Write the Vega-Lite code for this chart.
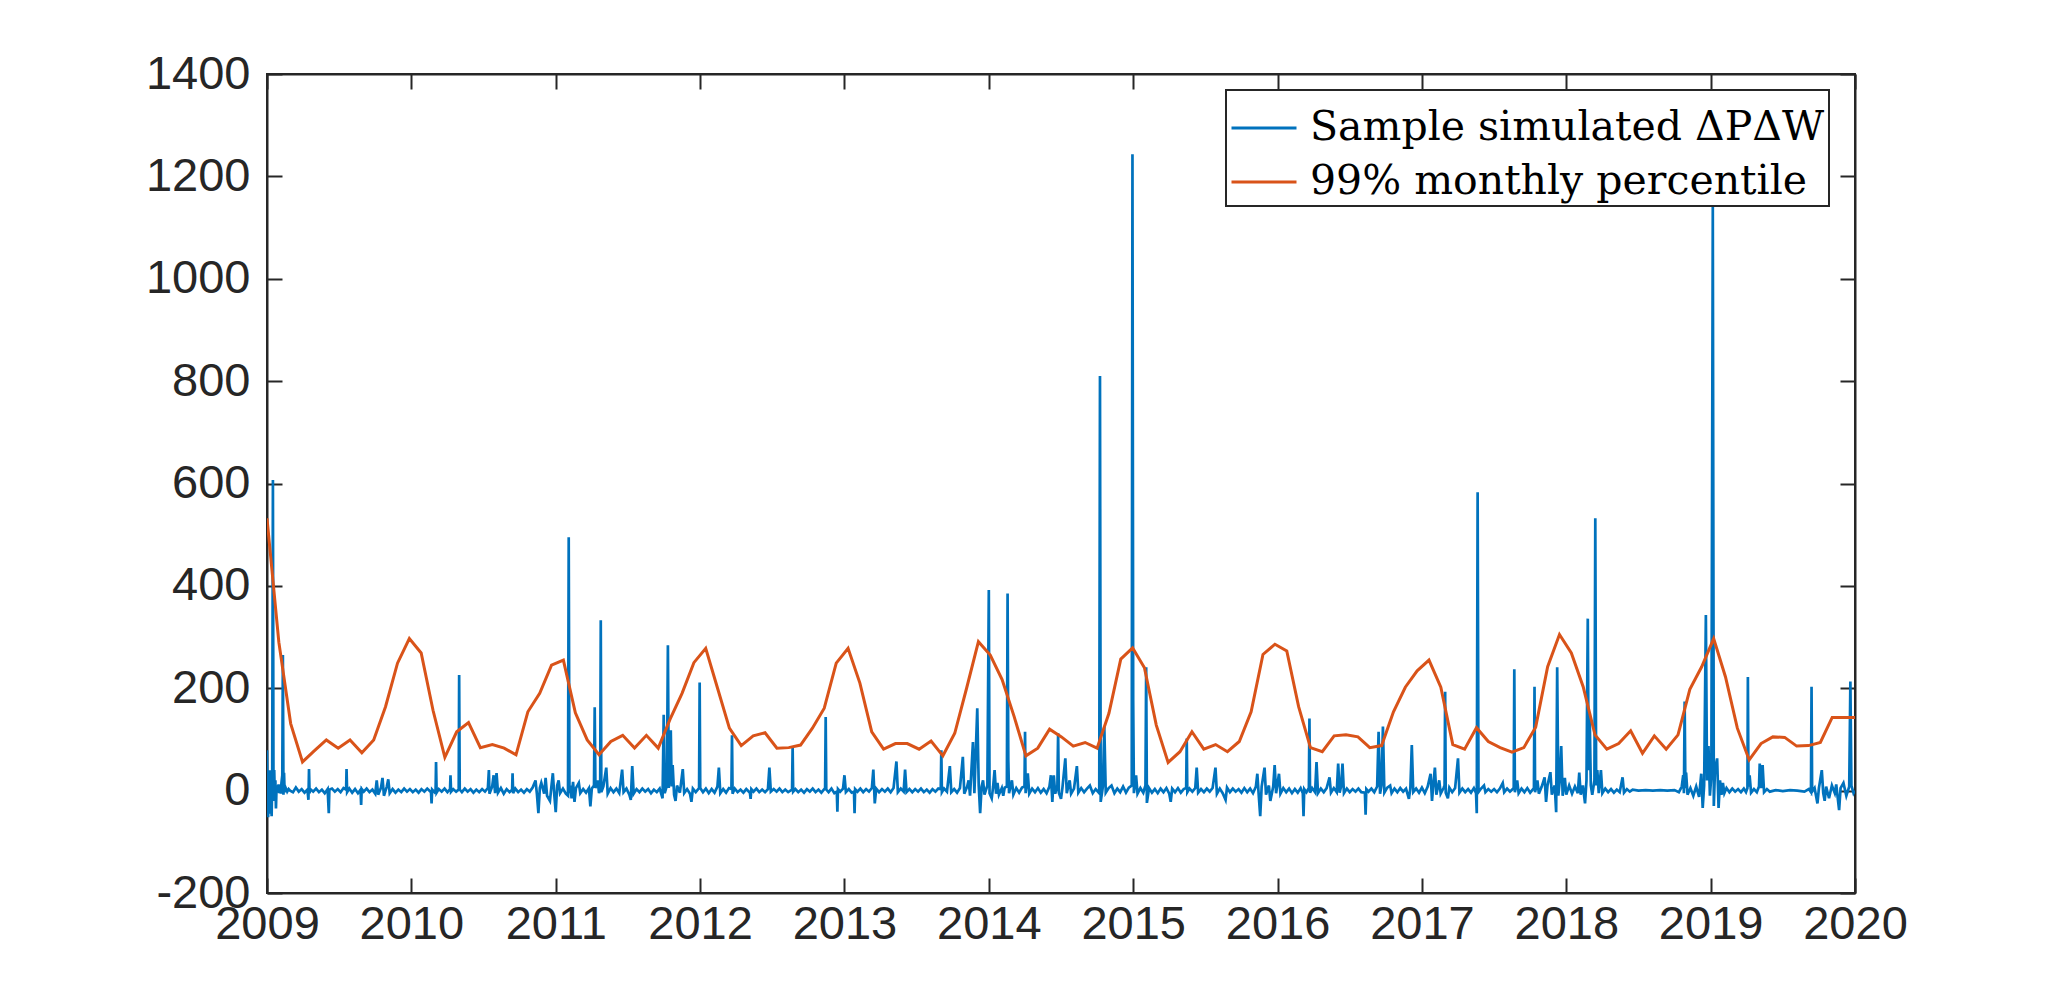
{
"$schema":"https://vega.github.io/schema/vega-lite/v6.json",
"autosize":"none",
"width":1588,"height":819,
"padding":{"left":267,"top":74,"right":195,"bottom":109},
"background":"white",
"config":{"view":{"stroke":"#262626","strokeWidth":2},"legend":{"strokeWidth":2},"axis":{"grid":false,"title":null,"domainColor":"#262626","domainWidth":2,"tickColor":"#262626","tickWidth":2,"tickSize":-15,"labelFont":"Liberation Sans","labelFontSize":47,"labelColor":"#262626"}},
"datasets":{
"sim":[
{"t":2009.000,"v":79},{"t":2009.004,"v":-10},{"t":2009.008,"v":-52},{"t":2009.012,"v":30},{"t":2009.016,"v":-45},{"t":2009.020,"v":40},{"t":2009.024,"v":-30},{"t":2009.028,"v":5},{"t":2009.032,"v":-50},{"t":2009.036,"v":20},{"t":2009.041,"v":607},{"t":2009.045,"v":-20},{"t":2009.050,"v":40},{"t":2009.054,"v":-10},{"t":2009.058,"v":20},{"t":2009.062,"v":-35},{"t":2009.066,"v":5},{"t":2009.070,"v":10},{"t":2009.075,"v":0},{"t":2009.080,"v":12},{"t":2009.085,"v":-5},{"t":2009.090,"v":8},{"t":2009.096,"v":-6},{"t":2009.100,"v":15},{"t":2009.106,"v":30},{"t":2009.110,"v":265},{"t":2009.114,"v":-8},{"t":2009.118,"v":35},{"t":2009.122,"v":-3},{"t":2009.130,"v":5},{"t":2009.140,"v":-2},{"t":2009.150,"v":3},
{"t":2009.16,"v":0},{"t":2009.18,"v":-3},{"t":2009.20,"v":6},{"t":2009.22,"v":-2},{"t":2009.24,"v":3},{"t":2009.26,"v":-4},{"t":2009.28,"v":2},{"t":2009.287,"v":-18},{"t":2009.291,"v":42},{"t":2009.295,"v":-5},{"t":2009.30,"v":3},{"t":2009.32,"v":-2},{"t":2009.34,"v":4},{"t":2009.36,"v":-3},{"t":2009.38,"v":2},{"t":2009.40,"v":-5},{"t":2009.42,"v":3},{"t":2009.428,"v":-44},{"t":2009.432,"v":2},{"t":2009.45,"v":4},{"t":2009.47,"v":-2},{"t":2009.49,"v":3},{"t":2009.51,"v":-3},{"t":2009.53,"v":5},{"t":2009.548,"v":2},{"t":2009.551,"v":42},{"t":2009.555,"v":-3},{"t":2009.57,"v":4},{"t":2009.59,"v":-4},{"t":2009.61,"v":3},{"t":2009.63,"v":-5},{"t":2009.648,"v":2},{"t":2009.652,"v":-28},{"t":2009.656,"v":3},{"t":2009.67,"v":-2},{"t":2009.69,"v":4},{"t":2009.71,"v":-3},{"t":2009.73,"v":2},{"t":2009.75,"v":-6},{"t":2009.76,"v":20},{"t":2009.77,"v":-8},{"t":2009.79,"v":6},{"t":2009.80,"v":25},{"t":2009.81,"v":-10},{"t":2009.83,"v":8},{"t":2009.84,"v":22},{"t":2009.85,"v":-5},{"t":2009.87,"v":3},{"t":2009.89,"v":-4},{"t":2009.91,"v":2},{"t":2009.93,"v":-3},{"t":2009.95,"v":4},{"t":2009.97,"v":-2},{"t":2009.99,"v":3},
{"t":2010.01,"v":-3},{"t":2010.03,"v":2},{"t":2010.05,"v":-4},{"t":2010.07,"v":3},{"t":2010.09,"v":-2},{"t":2010.11,"v":4},{"t":2010.136,"v":-3},{"t":2010.14,"v":-25},{"t":2010.144,"v":2},{"t":2010.16,"v":-3},{"t":2010.168,"v":2},{"t":2010.171,"v":56},{"t":2010.175,"v":-4},{"t":2010.19,"v":3},{"t":2010.21,"v":-2},{"t":2010.23,"v":4},{"t":2010.25,"v":-3},{"t":2010.268,"v":3},{"t":2010.271,"v":30},{"t":2010.275,"v":-2},{"t":2010.29,"v":3},{"t":2010.31,"v":-2},{"t":2010.328,"v":2},{"t":2010.331,"v":226},{"t":2010.335,"v":2},{"t":2010.35,"v":-3},{"t":2010.37,"v":4},{"t":2010.39,"v":-2},{"t":2010.41,"v":3},{"t":2010.43,"v":-4},{"t":2010.45,"v":2},{"t":2010.47,"v":-3},{"t":2010.49,"v":3},{"t":2010.51,"v":-2},{"t":2010.53,"v":5},{"t":2010.537,"v":40},{"t":2010.541,"v":-6},{"t":2010.56,"v":8},{"t":2010.57,"v":30},{"t":2010.58,"v":-5},{"t":2010.59,"v":34},{"t":2010.60,"v":-4},{"t":2010.62,"v":5},{"t":2010.64,"v":-6},{"t":2010.66,"v":3},{"t":2010.68,"v":-3},{"t":2010.698,"v":2},{"t":2010.701,"v":34},{"t":2010.705,"v":-5},{"t":2010.72,"v":4},{"t":2010.74,"v":-3},{"t":2010.76,"v":2},{"t":2010.78,"v":-4},{"t":2010.80,"v":3},{"t":2010.82,"v":-2},{"t":2010.84,"v":6},{"t":2010.86,"v":20},{"t":2010.87,"v":-8},{"t":2010.88,"v":-44},{"t":2010.89,"v":5},{"t":2010.90,"v":15},{"t":2010.92,"v":-6},{"t":2010.93,"v":25},{"t":2010.94,"v":-10},{"t":2010.96,"v":-20},{"t":2010.97,"v":8},{"t":2010.98,"v":34},{"t":2010.99,"v":-8},
{"t":2011.00,"v":-42},{"t":2011.01,"v":10},{"t":2011.02,"v":20},{"t":2011.03,"v":-5},{"t":2011.05,"v":4},{"t":2011.07,"v":-6},{"t":2011.085,"v":-10},{"t":2011.09,"v":495},{"t":2011.095,"v":-5},{"t":2011.10,"v":10},{"t":2011.11,"v":-15},{"t":2011.12,"v":17},{"t":2011.13,"v":-22},{"t":2011.14,"v":5},{"t":2011.16,"v":15},{"t":2011.17,"v":-5},{"t":2011.19,"v":3},{"t":2011.21,"v":-4},{"t":2011.23,"v":5},{"t":2011.24,"v":-31},{"t":2011.25,"v":4},{"t":2011.265,"v":10},{"t":2011.27,"v":163},{"t":2011.275,"v":5},{"t":2011.29,"v":20},{"t":2011.30,"v":-5},{"t":2011.308,"v":10},{"t":2011.312,"v":333},{"t":2011.316,"v":-3},{"t":2011.33,"v":8},{"t":2011.35,"v":45},{"t":2011.36,"v":-6},{"t":2011.38,"v":5},{"t":2011.40,"v":-3},{"t":2011.42,"v":4},{"t":2011.44,"v":-5},{"t":2011.46,"v":41},{"t":2011.47,"v":-3},{"t":2011.49,"v":4},{"t":2011.51,"v":-8},{"t":2011.52,"v":-18},{"t":2011.53,"v":48},{"t":2011.54,"v":-6},{"t":2011.56,"v":3},{"t":2011.58,"v":-3},{"t":2011.60,"v":4},{"t":2011.62,"v":-2},{"t":2011.64,"v":3},{"t":2011.66,"v":-5},{"t":2011.68,"v":2},{"t":2011.70,"v":-3},{"t":2011.72,"v":4},{"t":2011.74,"v":-15},{"t":2011.748,"v":148},{"t":2011.755,"v":-5},{"t":2011.77,"v":10},{"t":2011.777,"v":284},{"t":2011.783,"v":5},{"t":2011.797,"v":118},{"t":2011.803,"v":8},{"t":2011.81,"v":50},{"t":2011.82,"v":-8},{"t":2011.83,"v":-20},{"t":2011.84,"v":10},{"t":2011.86,"v":-4},{"t":2011.88,"v":42},{"t":2011.89,"v":-5},{"t":2011.91,"v":3},{"t":2011.93,"v":-6},{"t":2011.94,"v":-22},{"t":2011.95,"v":4},{"t":2011.97,"v":-3},{"t":2011.993,"v":5},{"t":2011.997,"v":211},
{"t":2012.001,"v":5},{"t":2012.02,"v":-3},{"t":2012.04,"v":4},{"t":2012.06,"v":-5},{"t":2012.08,"v":3},{"t":2012.10,"v":-4},{"t":2012.12,"v":8},{"t":2012.13,"v":45},{"t":2012.14,"v":-5},{"t":2012.16,"v":3},{"t":2012.18,"v":-4},{"t":2012.20,"v":5},{"t":2012.217,"v":3},{"t":2012.221,"v":108},{"t":2012.225,"v":-6},{"t":2012.24,"v":4},{"t":2012.26,"v":-3},{"t":2012.28,"v":2},{"t":2012.30,"v":-4},{"t":2012.32,"v":3},{"t":2012.345,"v":-4},{"t":2012.35,"v":-16},{"t":2012.355,"v":3},{"t":2012.37,"v":-2},{"t":2012.39,"v":4},{"t":2012.41,"v":-3},{"t":2012.43,"v":2},{"t":2012.45,"v":-3},{"t":2012.47,"v":3},{"t":2012.48,"v":45},{"t":2012.49,"v":-2},{"t":2012.51,"v":3},{"t":2012.53,"v":-2},{"t":2012.55,"v":4},{"t":2012.57,"v":-3},{"t":2012.59,"v":2},{"t":2012.61,"v":-3},{"t":2012.637,"v":2},{"t":2012.641,"v":86},{"t":2012.645,"v":-2},{"t":2012.66,"v":3},{"t":2012.68,"v":-3},{"t":2012.70,"v":2},{"t":2012.72,"v":-4},{"t":2012.74,"v":3},{"t":2012.76,"v":-2},{"t":2012.78,"v":4},{"t":2012.80,"v":-3},{"t":2012.82,"v":2},{"t":2012.84,"v":-4},{"t":2012.866,"v":5},{"t":2012.870,"v":144},{"t":2012.874,"v":2},{"t":2012.89,"v":-3},{"t":2012.91,"v":4},{"t":2012.93,"v":-5},{"t":2012.947,"v":-2},{"t":2012.951,"v":-41},{"t":2012.955,"v":3},{"t":2012.97,"v":-2},{"t":2012.99,"v":4},
{"t":2013.00,"v":30},{"t":2013.01,"v":-3},{"t":2013.03,"v":3},{"t":2013.05,"v":-4},{"t":2013.066,"v":-2},{"t":2013.07,"v":-44},{"t":2013.074,"v":3},{"t":2013.09,"v":-2},{"t":2013.11,"v":4},{"t":2013.13,"v":-3},{"t":2013.15,"v":3},{"t":2013.17,"v":-2},{"t":2013.19,"v":5},{"t":2013.20,"v":41},{"t":2013.21,"v":-25},{"t":2013.22,"v":4},{"t":2013.24,"v":-3},{"t":2013.26,"v":3},{"t":2013.28,"v":-2},{"t":2013.30,"v":4},{"t":2013.32,"v":-3},{"t":2013.34,"v":5},{"t":2013.36,"v":57},{"t":2013.37,"v":-3},{"t":2013.39,"v":4},{"t":2013.41,"v":-2},{"t":2013.42,"v":41},{"t":2013.43,"v":-3},{"t":2013.45,"v":3},{"t":2013.47,"v":-3},{"t":2013.49,"v":3},{"t":2013.51,"v":-2},{"t":2013.53,"v":4},{"t":2013.55,"v":-3},{"t":2013.57,"v":2},{"t":2013.59,"v":-4},{"t":2013.61,"v":3},{"t":2013.63,"v":-2},{"t":2013.65,"v":4},{"t":2013.667,"v":3},{"t":2013.671,"v":79},{"t":2013.675,"v":-3},{"t":2013.69,"v":4},{"t":2013.71,"v":-2},{"t":2013.73,"v":48},{"t":2013.74,"v":-3},{"t":2013.76,"v":3},{"t":2013.78,"v":-4},{"t":2013.80,"v":5},{"t":2013.82,"v":66},{"t":2013.83,"v":-6},{"t":2013.85,"v":8},{"t":2013.86,"v":20},{"t":2013.87,"v":-10},{"t":2013.89,"v":95},{"t":2013.90,"v":-5},{"t":2013.92,"v":161},{"t":2013.93,"v":10},{"t":2013.94,"v":-44},{"t":2013.95,"v":8},{"t":2013.96,"v":20},{"t":2013.97,"v":-8},{"t":2013.99,"v":10},
{"t":2014.00,"v":392},{"t":2014.005,"v":-5},{"t":2014.02,"v":-15},{"t":2014.03,"v":8},{"t":2014.04,"v":40},{"t":2014.05,"v":-6},{"t":2014.06,"v":15},{"t":2014.07,"v":-8},{"t":2014.09,"v":5},{"t":2014.10,"v":-10},{"t":2014.11,"v":6},{"t":2014.125,"v":8},{"t":2014.13,"v":385},{"t":2014.135,"v":60},{"t":2014.14,"v":-5},{"t":2014.16,"v":20},{"t":2014.17,"v":-8},{"t":2014.19,"v":5},{"t":2014.21,"v":-4},{"t":2014.23,"v":6},{"t":2014.247,"v":8},{"t":2014.251,"v":115},{"t":2014.255,"v":-5},{"t":2014.27,"v":34},{"t":2014.28,"v":-6},{"t":2014.30,"v":4},{"t":2014.32,"v":-3},{"t":2014.34,"v":5},{"t":2014.36,"v":-4},{"t":2014.38,"v":3},{"t":2014.40,"v":-5},{"t":2014.42,"v":8},{"t":2014.43,"v":30},{"t":2014.44,"v":-22},{"t":2014.45,"v":30},{"t":2014.46,"v":-6},{"t":2014.475,"v":10},{"t":2014.48,"v":112},{"t":2014.485,"v":-4},{"t":2014.50,"v":-16},{"t":2014.51,"v":6},{"t":2014.53,"v":63},{"t":2014.54,"v":-5},{"t":2014.56,"v":20},{"t":2014.57,"v":-6},{"t":2014.59,"v":4},{"t":2014.61,"v":48},{"t":2014.62,"v":-4},{"t":2014.64,"v":5},{"t":2014.66,"v":-3},{"t":2014.68,"v":4},{"t":2014.70,"v":10},{"t":2014.72,"v":-5},{"t":2014.74,"v":3},{"t":2014.765,"v":-5},{"t":2014.770,"v":810},{"t":2014.775,"v":-22},{"t":2014.79,"v":8},{"t":2014.80,"v":125},{"t":2014.81,"v":-4},{"t":2014.83,"v":5},{"t":2014.85,"v":10},{"t":2014.87,"v":-5},{"t":2014.89,"v":4},{"t":2014.91,"v":-3},{"t":2014.93,"v":8},{"t":2014.95,"v":-4},{"t":2014.97,"v":6},{"t":2014.990,"v":10},{"t":2014.995,"v":1243},
{"t":2015.000,"v":177},{"t":2015.005,"v":-5},{"t":2015.02,"v":30},{"t":2015.03,"v":-6},{"t":2015.05,"v":5},{"t":2015.07,"v":-4},{"t":2015.085,"v":10},{"t":2015.09,"v":241},{"t":2015.095,"v":-24},{"t":2015.11,"v":5},{"t":2015.13,"v":-4},{"t":2015.15,"v":3},{"t":2015.17,"v":-5},{"t":2015.19,"v":4},{"t":2015.21,"v":-3},{"t":2015.23,"v":5},{"t":2015.25,"v":-6},{"t":2015.26,"v":-22},{"t":2015.27,"v":4},{"t":2015.29,"v":-3},{"t":2015.31,"v":5},{"t":2015.33,"v":-4},{"t":2015.35,"v":3},{"t":2015.367,"v":5},{"t":2015.371,"v":102},{"t":2015.375,"v":-3},{"t":2015.39,"v":4},{"t":2015.41,"v":-2},{"t":2015.43,"v":5},{"t":2015.44,"v":45},{"t":2015.45,"v":-4},{"t":2015.47,"v":3},{"t":2015.49,"v":-3},{"t":2015.51,"v":4},{"t":2015.53,"v":-2},{"t":2015.55,"v":5},{"t":2015.57,"v":45},{"t":2015.58,"v":-6},{"t":2015.60,"v":4},{"t":2015.62,"v":-5},{"t":2015.64,"v":-18},{"t":2015.65,"v":6},{"t":2015.67,"v":-3},{"t":2015.69,"v":4},{"t":2015.71,"v":-2},{"t":2015.73,"v":3},{"t":2015.75,"v":-4},{"t":2015.77,"v":5},{"t":2015.79,"v":-3},{"t":2015.81,"v":4},{"t":2015.83,"v":-5},{"t":2015.85,"v":8},{"t":2015.86,"v":33},{"t":2015.87,"v":-10},{"t":2015.88,"v":-50},{"t":2015.89,"v":8},{"t":2015.91,"v":45},{"t":2015.92,"v":-8},{"t":2015.94,"v":10},{"t":2015.95,"v":-20},{"t":2015.97,"v":8},{"t":2015.98,"v":50},{"t":2015.99,"v":-5},
{"t":2016.01,"v":33},{"t":2016.02,"v":-6},{"t":2016.04,"v":5},{"t":2016.06,"v":-3},{"t":2016.08,"v":4},{"t":2016.10,"v":-5},{"t":2016.12,"v":3},{"t":2016.14,"v":-4},{"t":2016.16,"v":5},{"t":2016.175,"v":-5},{"t":2016.18,"v":-50},{"t":2016.185,"v":3},{"t":2016.20,"v":-3},{"t":2016.217,"v":5},{"t":2016.221,"v":141},{"t":2016.225,"v":-4},{"t":2016.24,"v":5},{"t":2016.26,"v":-3},{"t":2016.27,"v":56},{"t":2016.28,"v":-5},{"t":2016.30,"v":4},{"t":2016.32,"v":-3},{"t":2016.34,"v":5},{"t":2016.36,"v":26},{"t":2016.37,"v":-4},{"t":2016.39,"v":5},{"t":2016.41,"v":-3},{"t":2016.42,"v":53},{"t":2016.43,"v":-4},{"t":2016.44,"v":8},{"t":2016.45,"v":53},{"t":2016.46,"v":-5},{"t":2016.48,"v":4},{"t":2016.50,"v":-3},{"t":2016.52,"v":3},{"t":2016.54,"v":-2},{"t":2016.56,"v":4},{"t":2016.58,"v":-3},{"t":2016.605,"v":-4},{"t":2016.61,"v":-47},{"t":2016.615,"v":3},{"t":2016.63,"v":-2},{"t":2016.65,"v":4},{"t":2016.67,"v":-3},{"t":2016.69,"v":8},{"t":2016.70,"v":115},{"t":2016.71,"v":-6},{"t":2016.72,"v":10},{"t":2016.73,"v":125},{"t":2016.74,"v":-4},{"t":2016.76,"v":6},{"t":2016.78,"v":10},{"t":2016.79,"v":-5},{"t":2016.81,"v":4},{"t":2016.83,"v":-3},{"t":2016.85,"v":5},{"t":2016.87,"v":-2},{"t":2016.89,"v":4},{"t":2016.91,"v":-16},{"t":2016.92,"v":5},{"t":2016.93,"v":89},{"t":2016.94,"v":-3},{"t":2016.96,"v":4},{"t":2016.98,"v":-4},
{"t":2017.00,"v":6},{"t":2017.02,"v":-5},{"t":2017.04,"v":8},{"t":2017.06,"v":33},{"t":2017.07,"v":-20},{"t":2017.08,"v":15},{"t":2017.09,"v":45},{"t":2017.10,"v":-8},{"t":2017.12,"v":20},{"t":2017.13,"v":-6},{"t":2017.15,"v":5},{"t":2017.157,"v":10},{"t":2017.161,"v":193},{"t":2017.165,"v":-4},{"t":2017.18,"v":-15},{"t":2017.19,"v":6},{"t":2017.21,"v":-3},{"t":2017.23,"v":5},{"t":2017.25,"v":63},{"t":2017.26,"v":-4},{"t":2017.28,"v":4},{"t":2017.30,"v":-3},{"t":2017.32,"v":3},{"t":2017.34,"v":-4},{"t":2017.36,"v":5},{"t":2017.375,"v":-5},{"t":2017.38,"v":-44},{"t":2017.386,"v":583},{"t":2017.392,"v":-3},{"t":2017.41,"v":4},{"t":2017.43,"v":10},{"t":2017.44,"v":-3},{"t":2017.46,"v":3},{"t":2017.48,"v":-2},{"t":2017.50,"v":3},{"t":2017.52,"v":-3},{"t":2017.54,"v":4},{"t":2017.56,"v":15},{"t":2017.57,"v":-3},{"t":2017.59,"v":4},{"t":2017.61,"v":-2},{"t":2017.636,"v":5},{"t":2017.640,"v":237},{"t":2017.644,"v":-3},{"t":2017.66,"v":20},{"t":2017.67,"v":-5},{"t":2017.69,"v":4},{"t":2017.71,"v":-3},{"t":2017.73,"v":5},{"t":2017.75,"v":-4},{"t":2017.776,"v":5},{"t":2017.780,"v":203},{"t":2017.784,"v":-3},{"t":2017.80,"v":20},{"t":2017.81,"v":-6},{"t":2017.83,"v":8},{"t":2017.85,"v":26},{"t":2017.86,"v":-22},{"t":2017.87,"v":10},{"t":2017.89,"v":36},{"t":2017.90,"v":-8},{"t":2017.92,"v":10},{"t":2017.93,"v":-42},{"t":2017.937,"v":241},{"t":2017.945,"v":-10},{"t":2017.955,"v":20},{"t":2017.965,"v":87},{"t":2017.975,"v":-10},{"t":2017.99,"v":25},
{"t":2018.00,"v":-8},{"t":2018.02,"v":10},{"t":2018.04,"v":-6},{"t":2018.06,"v":8},{"t":2018.08,"v":-5},{"t":2018.09,"v":35},{"t":2018.10,"v":-8},{"t":2018.115,"v":10},{"t":2018.13,"v":-25},{"t":2018.14,"v":20},{"t":2018.149,"v":336},{"t":2018.155,"v":40},{"t":2018.162,"v":150},{"t":2018.17,"v":10},{"t":2018.18,"v":-8},{"t":2018.195,"v":20},{"t":2018.201,"v":532},{"t":2018.207,"v":10},{"t":2018.215,"v":40},{"t":2018.225,"v":-5},{"t":2018.24,"v":40},{"t":2018.25,"v":-5},{"t":2018.27,"v":4},{"t":2018.29,"v":-3},{"t":2018.31,"v":3},{"t":2018.33,"v":-4},{"t":2018.35,"v":2},{"t":2018.37,"v":-3},{"t":2018.39,"v":26},{"t":2018.40,"v":-4},{"t":2018.42,"v":3},{"t":2018.44,"v":-2},{"t":2018.46,"v":2},{"t":2018.50,"v":0},{"t":2018.55,"v":1},{"t":2018.60,"v":0},{"t":2018.65,"v":1},{"t":2018.70,"v":0},{"t":2018.75,"v":1},{"t":2018.78,"v":-3},{"t":2018.80,"v":8},{"t":2018.81,"v":30},{"t":2018.815,"v":-5},{"t":2018.82,"v":174},{"t":2018.825,"v":5},{"t":2018.83,"v":35},{"t":2018.84,"v":-8},{"t":2018.86,"v":5},{"t":2018.88,"v":-10},{"t":2018.90,"v":8},{"t":2018.92,"v":-12},{"t":2018.935,"v":33},{"t":2018.945,"v":-34},{"t":2018.955,"v":10},{"t":2018.967,"v":343},{"t":2018.975,"v":20},{"t":2018.985,"v":87},{"t":2018.995,"v":-10},
{"t":2019.005,"v":30},{"t":2019.015,"v":1140},{"t":2019.022,"v":-30},{"t":2019.03,"v":40},{"t":2019.045,"v":63},{"t":2019.055,"v":-34},{"t":2019.065,"v":20},{"t":2019.075,"v":-8},{"t":2019.085,"v":15},{"t":2019.095,"v":-5},{"t":2019.11,"v":5},{"t":2019.13,"v":-3},{"t":2019.15,"v":4},{"t":2019.17,"v":-2},{"t":2019.19,"v":3},{"t":2019.21,"v":-3},{"t":2019.23,"v":4},{"t":2019.245,"v":-3},{"t":2019.255,"v":5},{"t":2019.258,"v":222},{"t":2019.262,"v":8},{"t":2019.27,"v":30},{"t":2019.28,"v":-4},{"t":2019.30,"v":3},{"t":2019.32,"v":-3},{"t":2019.335,"v":8},{"t":2019.34,"v":53},{"t":2019.35,"v":5},{"t":2019.36,"v":50},{"t":2019.37,"v":-3},{"t":2019.39,"v":3},{"t":2019.41,"v":-2},{"t":2019.45,"v":1},{"t":2019.50,"v":-1},{"t":2019.55,"v":1},{"t":2019.60,"v":0},{"t":2019.65,"v":-2},{"t":2019.68,"v":3},{"t":2019.695,"v":-3},{"t":2019.699,"v":203},{"t":2019.703,"v":-2},{"t":2019.72,"v":5},{"t":2019.74,"v":-25},{"t":2019.75,"v":5},{"t":2019.77,"v":40},{"t":2019.78,"v":-5},{"t":2019.79,"v":-20},{"t":2019.80,"v":8},{"t":2019.82,"v":-15},{"t":2019.84,"v":10},{"t":2019.86,"v":-5},{"t":2019.87,"v":12},{"t":2019.89,"v":-38},{"t":2019.90,"v":5},{"t":2019.92,"v":15},{"t":2019.94,"v":-10},{"t":2019.96,"v":8},{"t":2019.968,"v":213},{"t":2019.975,"v":10},{"t":2019.99,"v":-5},{"t":2020.00,"v":0}
],
"pct":[
{"t":2009.000,"v":532},{"t":2009.082,"v":290},{"t":2009.164,"v":131},{"t":2009.246,"v":56},{"t":2009.329,"v":78},{"t":2009.411,"v":99},{"t":2009.493,"v":83},{"t":2009.575,"v":99},{"t":2009.657,"v":74},{"t":2009.739,"v":99},{"t":2009.821,"v":164},{"t":2009.904,"v":249},{"t":2009.986,"v":297},{"t":2010.068,"v":269},{"t":2010.150,"v":157},{"t":2010.232,"v":65},{"t":2010.314,"v":115},{"t":2010.396,"v":133},{"t":2010.478,"v":84},{"t":2010.561,"v":90},{"t":2010.643,"v":83},{"t":2010.725,"v":70},{"t":2010.807,"v":154},{"t":2010.889,"v":190},{"t":2010.971,"v":245},{"t":2011.053,"v":255},{"t":2011.136,"v":152},{"t":2011.218,"v":99},{"t":2011.300,"v":70},{"t":2011.382,"v":96},{"t":2011.464,"v":108},{"t":2011.546,"v":83},{"t":2011.628,"v":108},{"t":2011.710,"v":83},{"t":2011.793,"v":140},{"t":2011.875,"v":190},{"t":2011.957,"v":250},{"t":2012.039,"v":278},{"t":2012.121,"v":200},{"t":2012.203,"v":122},{"t":2012.285,"v":88},{"t":2012.368,"v":107},{"t":2012.450,"v":113},{"t":2012.532,"v":83},{"t":2012.614,"v":84},{"t":2012.696,"v":89},{"t":2012.778,"v":122},{"t":2012.860,"v":161},{"t":2012.943,"v":249},{"t":2013.025,"v":278},{"t":2013.107,"v":210},{"t":2013.189,"v":115},{"t":2013.271,"v":81},{"t":2013.353,"v":92},{"t":2013.435,"v":92},{"t":2013.517,"v":81},{"t":2013.600,"v":97},{"t":2013.682,"v":68},{"t":2013.764,"v":112},{"t":2013.846,"v":200},{"t":2013.928,"v":291},{"t":2014.010,"v":265},{"t":2014.092,"v":217},{"t":2014.175,"v":145},{"t":2014.257,"v":68},{"t":2014.339,"v":83},{"t":2014.421,"v":120},{"t":2014.503,"v":105},{"t":2014.585,"v":87},{"t":2014.667,"v":94},{"t":2014.750,"v":83},{"t":2014.832,"v":151},{"t":2014.914,"v":257},{"t":2014.996,"v":279},{"t":2015.078,"v":240},{"t":2015.160,"v":128},{"t":2015.242,"v":55},{"t":2015.324,"v":76},{"t":2015.407,"v":115},{"t":2015.489,"v":81},{"t":2015.571,"v":90},{"t":2015.653,"v":76},{"t":2015.735,"v":96},{"t":2015.817,"v":154},{"t":2015.899,"v":266},{"t":2015.982,"v":286},{"t":2016.064,"v":273},{"t":2016.146,"v":164},{"t":2016.228,"v":84},{"t":2016.310,"v":76},{"t":2016.392,"v":107},{"t":2016.474,"v":109},{"t":2016.557,"v":105},{"t":2016.639,"v":84},{"t":2016.721,"v":88},{"t":2016.803,"v":154},{"t":2016.885,"v":202},{"t":2016.967,"v":234},{"t":2017.049,"v":255},{"t":2017.131,"v":202},{"t":2017.214,"v":90},{"t":2017.296,"v":81},{"t":2017.378,"v":123},{"t":2017.460,"v":96},{"t":2017.542,"v":84},{"t":2017.624,"v":75},{"t":2017.706,"v":84},{"t":2017.788,"v":124},{"t":2017.871,"v":242},{"t":2017.953,"v":305},{"t":2018.035,"v":269},{"t":2018.117,"v":203},{"t":2018.199,"v":109},{"t":2018.281,"v":81},{"t":2018.363,"v":92},{"t":2018.446,"v":117},{"t":2018.528,"v":73},{"t":2018.610,"v":107},{"t":2018.692,"v":81},{"t":2018.774,"v":109},{"t":2018.856,"v":198},{"t":2018.938,"v":242},{"t":2019.021,"v":297},{"t":2019.103,"v":222},{"t":2019.185,"v":122},{"t":2019.267,"v":60},{"t":2019.349,"v":92},{"t":2019.431,"v":105},{"t":2019.513,"v":104},{"t":2019.596,"v":87},{"t":2019.678,"v":88},{"t":2019.760,"v":94},{"t":2019.842,"v":143},{"t":2020.000,"v":143}
]},
"layer":[
{"data":{"name":"sim"},"mark":{"type":"line","strokeWidth":2.7,"clip":true},
"encoding":{
"x":{"field":"t","type":"quantitative","scale":{"domain":[2009,2020],"nice":false,"zero":false},"axis":{"orient":"bottom","values":[2009,2010,2011,2012,2013,2014,2015,2016,2017,2018,2019,2020],"format":"d","labelPadding":23,"labelFlush":false}},
"y":{"field":"v","type":"quantitative","scale":{"domain":[-200,1400],"nice":false,"zero":false},"axis":{"orient":"left","values":[-200,0,200,400,600,800,1000,1200,1400],"labelExpr":"'' + datum.value","labelPadding":32,"labelFlush":false}},
"color":{"datum":"Sample simulated ΔPΔW","type":"nominal","scale":{"domain":["Sample simulated ΔPΔW","99% monthly percentile"],"range":["#0072BD","#D95319"]},
"legend":{"orient":"none","legendX":959,"legendY":16,"title":null,"strokeColor":"#262626","fillColor":"white","padding":4,"symbolType":"stroke","symbolSize":4225,"symbolStrokeWidth":3,"labelFont":"DejaVu Serif","labelFontSize":41,"labelColor":"#000000","labelOffset":12,"labelLimit":900,"rowPadding":-10}}
}},
{"data":{"name":"pct"},"mark":{"type":"line","strokeWidth":3,"clip":true},
"encoding":{
"x":{"field":"t","type":"quantitative","axis":{"orient":"top","values":[2009,2010,2011,2012,2013,2014,2015,2016,2017,2018,2019,2020],"labels":false}},
"y":{"field":"v","type":"quantitative","axis":{"orient":"right","values":[-200,0,200,400,600,800,1000,1200,1400],"labels":false}},
"color":{"datum":"99% monthly percentile","type":"nominal"}
}}
],
"resolve":{"axis":{"x":"independent","y":"independent"}}
}
